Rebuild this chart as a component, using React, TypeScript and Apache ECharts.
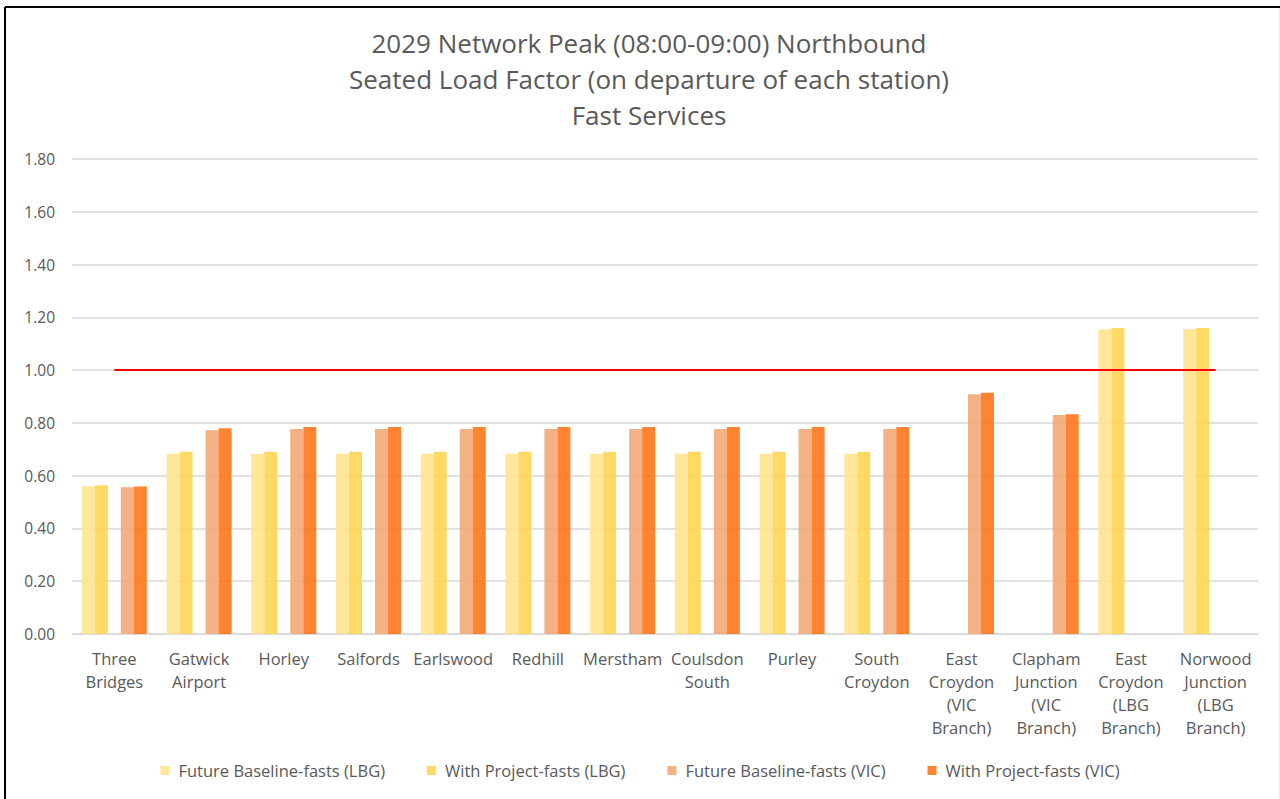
import React, { useEffect, useRef } from "react";
import * as echarts from "echarts";

const categories = [
  "Three\nBridges",
  "Gatwick\nAirport",
  "Horley",
  "Salfords",
  "Earlswood",
  "Redhill",
  "Merstham",
  "Coulsdon\nSouth",
  "Purley",
  "South\nCroydon",
  "East\nCroydon\n(VIC\nBranch)",
  "Clapham\nJunction\n(VIC\nBranch)",
  "East\nCroydon\n(LBG\nBranch)",
  "Norwood\nJunction\n(LBG\nBranch)",
];

const futureBaselineLBG = [0.56, 0.683, 0.683, 0.683, 0.683, 0.683, 0.683, 0.683, 0.683, 0.683, null, null, 1.155, 1.155];
const withProjectLBG = [0.564, 0.691, 0.691, 0.691, 0.691, 0.691, 0.691, 0.691, 0.691, 0.691, null, null, 1.16, 1.16];
const futureBaselineVIC = [0.556, 0.772, 0.777, 0.777, 0.777, 0.777, 0.777, 0.777, 0.777, 0.777, 0.909, 0.83, null, null];
const withProjectVIC = [0.559, 0.78, 0.784, 0.784, 0.784, 0.784, 0.784, 0.784, 0.784, 0.784, 0.914, 0.833, null, null];
const threshold = categories.map(() => 1.0);

const seriesNames = [
  "Future Baseline-fasts (LBG)",
  "With Project-fasts (LBG)",
  "Future Baseline-fasts (VIC)",
  "With Project-fasts (VIC)",
];
const titleLines = [
  "2029 Network Peak (08:00-09:00) Northbound",
  "Seated Load Factor (on departure of each station)",
  "Fast Services",
];

const FONT = "'Open Sans', 'Noto Sans', sans-serif";
const TEXT = "#595959";

export default function App() {
  const ref = useRef<HTMLDivElement>(null);
  useEffect(() => {
    if (!ref.current) return;
    const chart = echarts.init(ref.current, null, { renderer: "svg" });
    const bar = (name: string, data: (number | null)[], color: string) => ({
      name,
      type: "bar",
      data,
      barWidth: 13,
      barGap: "0%",
      itemStyle: { color },
    });
    chart.setOption({
      animation: false,
      backgroundColor: "#ffffff",
      textStyle: { fontFamily: FONT },
      title: {
        text: titleLines.join("\n"),
        left: 644,
        textAlign: "center",
        top: 20,
        textStyle: {
          fontFamily: FONT,
          fontSize: 26,
          fontWeight: "normal",
          color: TEXT,
          lineHeight: 36,
        },
      },
      legend: {
        data: seriesNames,
        bottom: 15,
        left: "center",
        itemWidth: 9,
        itemHeight: 9,
        itemGap: 42,
        icon: "rect",
        textStyle: { fontFamily: FONT, fontSize: 16.5, color: TEXT, padding: [0, 0, 0, 4] },
      },
      grid: { left: 72, right: 22, top: 159, bottom: 165 },
      xAxis: {
        type: "category",
        data: categories,
        axisLine: { lineStyle: { color: "#D9D9D9", width: 1.5 } },
        axisTick: { show: false },
        axisLabel: {
          interval: 0,
          margin: 13,
          fontFamily: FONT,
          fontSize: 16.5,
          lineHeight: 23,
          color: TEXT,
        },
      },
      yAxis: {
        type: "value",
        min: 0,
        max: 1.8,
        interval: 0.2,
        axisLine: { show: false },
        axisTick: { show: false },
        splitLine: { lineStyle: { color: "#D9D9D9", width: 1.5 } },
        axisLabel: {
          margin: 17,
          fontFamily: FONT,
          fontSize: 15.5,
          color: TEXT,
          formatter: (v: number) => v.toFixed(2),
        },
      },
      series: [
        bar(seriesNames[0], futureBaselineLBG, "rgba(255,227,142,0.9)"),
        bar(seriesNames[1], withProjectLBG, "rgba(255,213,85,0.9)"),
        { name: "gap", type: "bar", data: [], barWidth: 13, barGap: "0%" },
        bar(seriesNames[2], futureBaselineVIC, "rgba(243,168,117,0.9)"),
        bar(seriesNames[3], withProjectVIC, "rgba(255,119,28,0.9)"),
        {
          name: "Threshold",
          type: "line",
          data: threshold,
          symbol: "none",
          lineStyle: { color: "#FF0000", width: 2 },
          itemStyle: { color: "#FF0000" },
          z: 5,
        },
      ],
      graphic: [
        { type: "line", shape: { x1: 5, y1: 7, x2: 1280, y2: 7 }, style: { stroke: "#000", lineWidth: 2 } },
        { type: "line", shape: { x1: 5, y1: 7, x2: 5, y2: 799 }, style: { stroke: "#000", lineWidth: 2 } },
        { type: "line", shape: { x1: 1279, y1: 8, x2: 1279, y2: 799 }, style: { stroke: "#E0E0E0", lineWidth: 1 } },
      ],
    });
    return () => chart.dispose();
  }, []);
  return (
    <div
      ref={ref}
      style={{ position: "fixed", left: 0, top: 0, width: 1280, height: 799 }}
    />
  );
}
